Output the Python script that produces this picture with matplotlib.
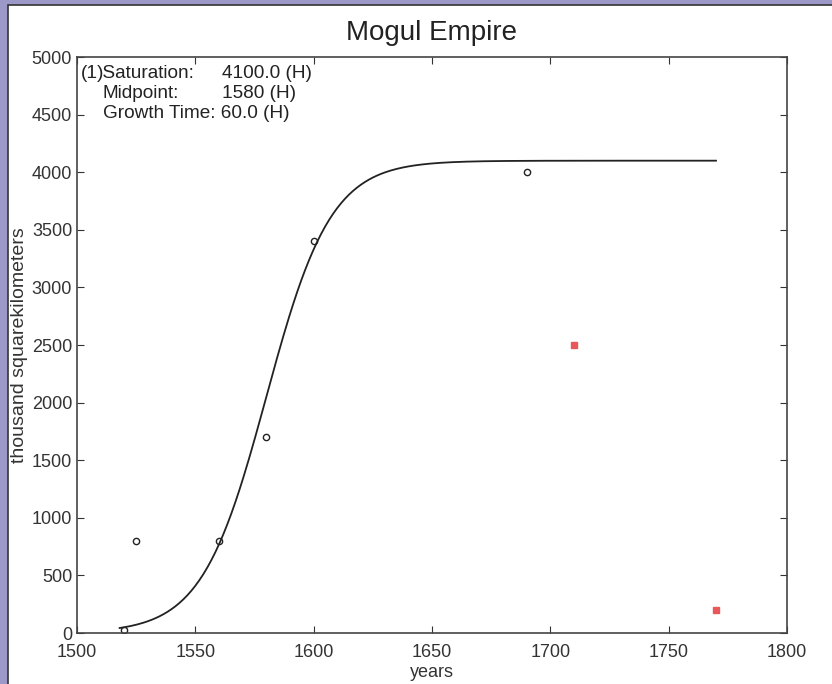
import numpy as np
import matplotlib.pyplot as plt
from matplotlib.patches import Rectangle

plt.rcParams['font.family'] = ['Liberation Sans', 'DejaVu Sans']

# observed data (open circles)
years_obs = [1520, 1525, 1560, 1580, 1600, 1690]
area_obs = [30, 800, 800, 1700, 3400, 4000]

# later points (red squares)
years_late = [1710, 1770]
area_late = [2500, 200]

# logistic fit parameters
saturation = 4100.0
midpoint = 1580
growth_time = 60.0
fit_start, fit_end = 1518, 1770

fig = plt.figure(figsize=(8.32, 6.84), dpi=100)
fig.patch.set_facecolor('#9c99c9')
# white page with a dark rule along the top/left edge
fig.patches.append(Rectangle((8 / 832, -0.1), 1, 0.1 + (684 - 5) / 684, transform=fig.transFigure,
                             facecolor='white', edgecolor='#333333', linewidth=1.2, zorder=-10))

ax = fig.add_axes([77 / 832, 1 - 633 / 684, 710 / 832, 576 / 684])
ax.set_facecolor('white')

k = np.log(81) / growth_time
t = np.linspace(fit_start, fit_end, 300)
ax.plot(t, saturation / (1 + np.exp(-k * (t - midpoint))), color='#222222', lw=1.3)

ax.plot(years_obs, area_obs, 'o', mfc='none', mec='#222222', ms=4.5, mew=1)
ax.plot(years_late, area_late, 's', color='#e8575a', ms=5)

ax.set_xlim(1500, 1800)
ax.set_ylim(0, 5000)
ax.set_xticks(range(1500, 1801, 50))
ax.set_yticks(range(0, 5001, 500))
ax.tick_params(direction='in', top=True, right=True, labelsize=13, length=5, colors='#333333')
ax.tick_params(axis='x', pad=8)
for s in ax.spines.values():
    s.set_color('#444444')
    s.set_linewidth(1.2)

ax.set_title('Mogul Empire', fontsize=20, color='#222222', pad=12)
ax.set_xlabel('years', fontsize=13, color='#333333', labelpad=2)
ax.set_ylabel('thousand squarekilometers', fontsize=14, color='#333333', labelpad=3)

txt = dict(transform=ax.transAxes, fontsize=13.7, color='#222222', va='center')
ax.text(4 / 710, 1 - 16 / 576, '(1', **txt)
ax.text(20 / 710, 1 - 16 / 576, ')Saturation:', **txt)
ax.text(145 / 710, 1 - 16 / 576, f'{saturation:.1f} (H)', **txt)
ax.text(26 / 710, 1 - 37 / 576, 'Midpoint:', **txt)
ax.text(145 / 710, 1 - 37 / 576, f'{midpoint} (H)', **txt)
ax.text(26 / 710, 1 - 57 / 576, f'Growth Time: {growth_time:.1f} (H)', **txt)

fig.savefig('out.png', dpi=100, facecolor=fig.get_facecolor())
